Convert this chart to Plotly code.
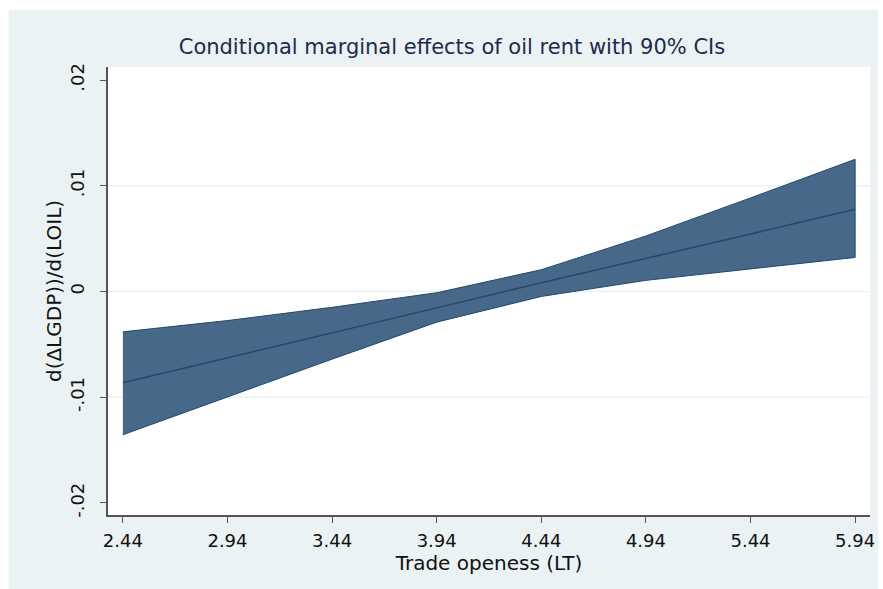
import plotly.graph_objects as go

x_vals = [2.44, 2.94, 3.44, 3.94, 4.44, 4.94, 5.44, 5.94]
effect = [-0.00863, -0.00629, -0.00394, -0.00155, 0.00082, 0.00309, 0.00543, 0.00777]
upper = [-0.00382, -0.00275, -0.00150, -0.00012, 0.00206, 0.00525, 0.00885, 0.01250]
lower = [-0.01355, -0.01000, -0.00640, -0.00290, -0.00047, 0.00105, 0.00210, 0.00322]
x_ticks = [2.44, 2.94, 3.44, 3.94, 4.44, 4.94, 5.44, 5.94]
y_ticks = [-0.02, -0.01, 0, 0.01, 0.02]
y_ticklabels = ["-.02", "-.01", "0", ".01", ".02"]
grid_vals = [-0.01, 0, 0.01]

FILL = "#476888"
EDGE = "#1f4a70"
BG = "#EAF2F3"
FONT = "DejaVu Sans, Liberation Sans, Arial, sans-serif"

fig = go.Figure()
fig.add_trace(go.Scatter(x=x_vals + x_vals[::-1], y=upper + lower[::-1],
                         fill="toself", fillcolor=FILL, mode="lines",
                         line=dict(color=EDGE, width=1), hoverinfo="skip",
                         showlegend=False))
fig.add_trace(go.Scatter(x=x_vals, y=effect, mode="lines",
                         line=dict(color=EDGE, width=1.5), showlegend=False))

W, H = 883, 589
L, R, T, B = 108, 8, 67, 74
pw, ph = W - L - R, H - T - B
shapes = [
    dict(type="rect", xref="paper", yref="paper", layer="below",
         x0=(8 - L) / pw, x1=(W - L) / pw, y0=-B / ph, y1=(H - B - 10) / ph,
         fillcolor=BG, line=dict(width=0)),
    dict(type="rect", xref="paper", yref="paper", layer="below",
         x0=0, x1=1, y0=0, y1=1, fillcolor="white", line=dict(width=0)),
]
for g in grid_vals:
    shapes.append(dict(type="line", xref="paper", yref="y", layer="below",
                       x0=0, x1=1, y0=g, y1=g, line=dict(color=BG, width=1.5)))

fig.update_layout(
    width=W, height=H,
    margin=dict(l=L, r=R, t=T, b=B, pad=0),
    paper_bgcolor="white", plot_bgcolor="white",
    font=dict(family=FONT, color="#111111", size=18),
    title=dict(text="Conditional marginal effects of oil rent with 90% CIs",
               x=452 / W, xanchor="center", xref="container",
               y=1 - 47 / H, yanchor="middle", yref="container",
               font=dict(size=21, color="#1e2b4d", family=FONT)),
    shapes=shapes,
    xaxis=dict(range=[2.369, 6.011], tickvals=x_ticks,
               ticktext=[f"{v:.2f}" for v in x_ticks],
               showgrid=False, zeroline=False, showline=True,
               linecolor="#555555", linewidth=1.5,
               ticks="outside", ticklen=6, tickcolor="#555555",
               tickfont=dict(size=18), ticklabelstandoff=3,
               title=dict(text="Trade openess (LT)", font=dict(size=20), standoff=2)),
    yaxis=dict(range=[-0.02114, 0.02123], tickvals=y_ticks, ticktext=y_ticklabels,
               tickangle=-90, showgrid=False, zeroline=False, showline=True,
               linecolor="#555555", linewidth=1.5,
               ticks="outside", ticklen=6, tickcolor="#555555",
               tickfont=dict(size=18), ticklabelstandoff=9,
               title=dict(text="d(ΔLGDP))/d(LOIL)", font=dict(size=20), standoff=0)),
)

fig.write_html("out.html", config={"displayModeBar": False},
               post_script="document.body.style.margin='0';document.body.style.overflow='hidden';")
